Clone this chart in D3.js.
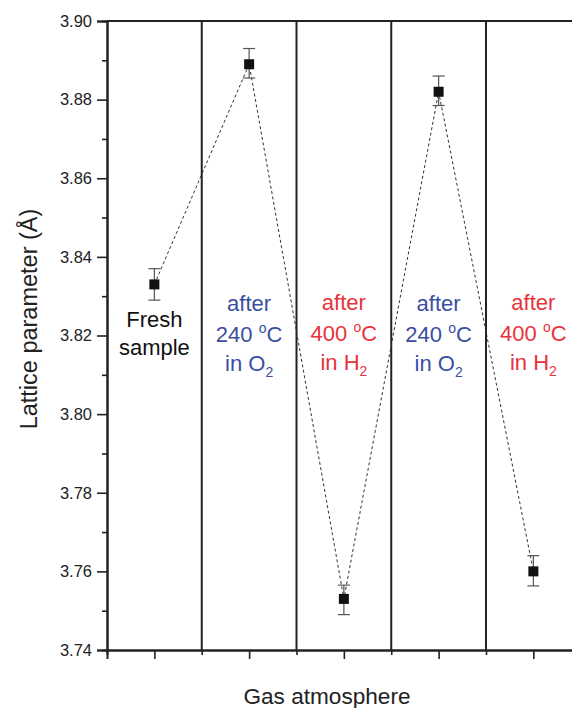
<!DOCTYPE html>
<html><head><meta charset="utf-8">
<script src="https://cdn.jsdelivr.net/npm/d3@7"></script>
<style>body{margin:0;background:#fff}svg{display:block}text{font-family:Arial,"Liberation Sans",sans-serif}</style>
</head><body><svg id="c" width="572" height="708"></svg>
<script>
const xs = [1,2,3,4,5];
const values = [3.833,3.889,3.753,3.882,3.760];
const errUp = [0.004,0.004,0.0035,0.004,0.004];
const errDn = [0.004,0.0035,0.004,0.0035,0.0037];
const yTicks = [3.74,3.76,3.78,3.80,3.82,3.84,3.86,3.88,3.90];
const dividers = [1.5,2.5,3.5,4.5];
const labels = [
 {lines:[["Fresh"],["sample"]], color:"#111"},
 {lines:[["after"],["240 ","o","C"],["in O","2"]], color:"#3a4fa0"},
 {lines:[["after"],["400 ","o","C"],["in H","2"]], color:"#e8333c"},
 {lines:[["after"],["240 ","o","C"],["in O","2"]], color:"#3a4fa0"},
 {lines:[["after"],["400 ","o","C"],["in H","2"]], color:"#e8333c"}
];
const svg = d3.select("#c");
const m = {l:107,t:21,b:650};
const x = d3.scaleLinear().domain([0.5,5.5]).range([107,580.75]);
const y = d3.scaleLinear().domain([3.74,3.90]).range([650,21]);
const stroke="#222";
const ya = svg.append("g").attr("transform",`translate(${m.l},0)`)
 .call(d3.axisLeft(y).tickValues(yTicks).tickFormat(d3.format(".2f")).tickSize(10).tickPadding(5));
const yminor = svg.append("g").attr("transform",`translate(${m.l},0)`)
 .call(d3.axisLeft(y).tickValues(d3.range(3.75,3.90,0.02)).tickFormat("").tickSize(5));
const xa = svg.append("g").attr("transform",`translate(0,${m.b})`)
 .call(d3.axisBottom(x).tickValues(xs).tickFormat("").tickSize(9));
const xminor = svg.append("g").attr("transform",`translate(0,${m.b})`)
 .call(d3.axisBottom(x).tickValues(dividers).tickFormat("").tickSize(5));
[ya,yminor,xa,xminor].forEach(g=>{g.select(".domain").attr("stroke",stroke).attr("stroke-width",2);
 g.selectAll(".tick line").attr("stroke",stroke).attr("stroke-width",1.6);});
ya.selectAll(".tick text").attr("font-size",16.5).attr("fill","#222").attr("font-family","Arial, 'Liberation Sans', sans-serif");
svg.append("line").attr("x1",m.l).attr("x2",572).attr("y1",y(3.90)).attr("y2",y(3.90)).attr("stroke",stroke).attr("stroke-width",2);
svg.selectAll(".div").data(dividers).join("line").attr("x1",d=>x(d)).attr("x2",d=>x(d))
 .attr("y1",y(3.90)).attr("y2",y(3.74)).attr("stroke",stroke).attr("stroke-width",2);
const pts = xs.map((d,i)=>[d,values[i]]);
svg.append("path").attr("d",d3.line().x(d=>x(d[0])).y(d=>y(d[1]))(pts))
 .attr("fill","none").attr("stroke","#333").attr("stroke-width",1).attr("stroke-dasharray","3,2.5");
const eb = svg.selectAll(".eb").data(xs).join("g").attr("stroke","#555").attr("stroke-width",1.2);
eb.append("line").attr("x1",(d)=>x(d)).attr("x2",d=>x(d)).attr("y1",(d,i)=>y(values[i]+errUp[i])).attr("y2",(d,i)=>y(values[i]-errDn[i]));
eb.append("line").attr("x1",d=>x(d)-6).attr("x2",d=>x(d)+6).attr("y1",(d,i)=>y(values[i]+errUp[i])).attr("y2",(d,i)=>y(values[i]+errUp[i]));
eb.append("line").attr("x1",d=>x(d)-6).attr("x2",d=>x(d)+6).attr("y1",(d,i)=>y(values[i]-errDn[i])).attr("y2",(d,i)=>y(values[i]-errDn[i]));
svg.selectAll(".pt").data(xs).join("rect").attr("x",d=>x(d)-5).attr("y",(d,i)=>y(values[i])-5)
 .attr("width",10).attr("height",10).attr("fill","#111");
const baseY = [[327,355],[311,342,371],[310,341,370],[311,342,371],[310,341,370]];
labels.forEach((lab,i)=>{
 lab.lines.forEach((parts,j)=>{
  const t = svg.append("text").attr("x",x(xs[i])).attr("y",baseY[i][j]).attr("text-anchor","middle")
   .attr("font-size",22).attr("fill",lab.color);
  if(parts.length===1) t.text(parts[0]);
  else if(parts.length===3){ t.append("tspan").text(parts[0]); t.append("tspan").attr("font-size",14).attr("dy",-9).text(parts[1]); t.append("tspan").attr("dy",9).text(parts[2]); }
  else { t.append("tspan").text(parts[0]); t.append("tspan").attr("font-size",14).attr("dy",6).text(parts[1]); }
 });
});
svg.append("text").attr("x",327).attr("y",704).attr("text-anchor","middle").attr("font-size",22.6).attr("fill","#222").text("Gas atmosphere");
svg.append("text").attr("transform",`translate(37,319) rotate(-90)`).attr("text-anchor","middle").attr("font-size",23.5).attr("fill","#222").text("Lattice parameter (Å)");
</script></body></html>
